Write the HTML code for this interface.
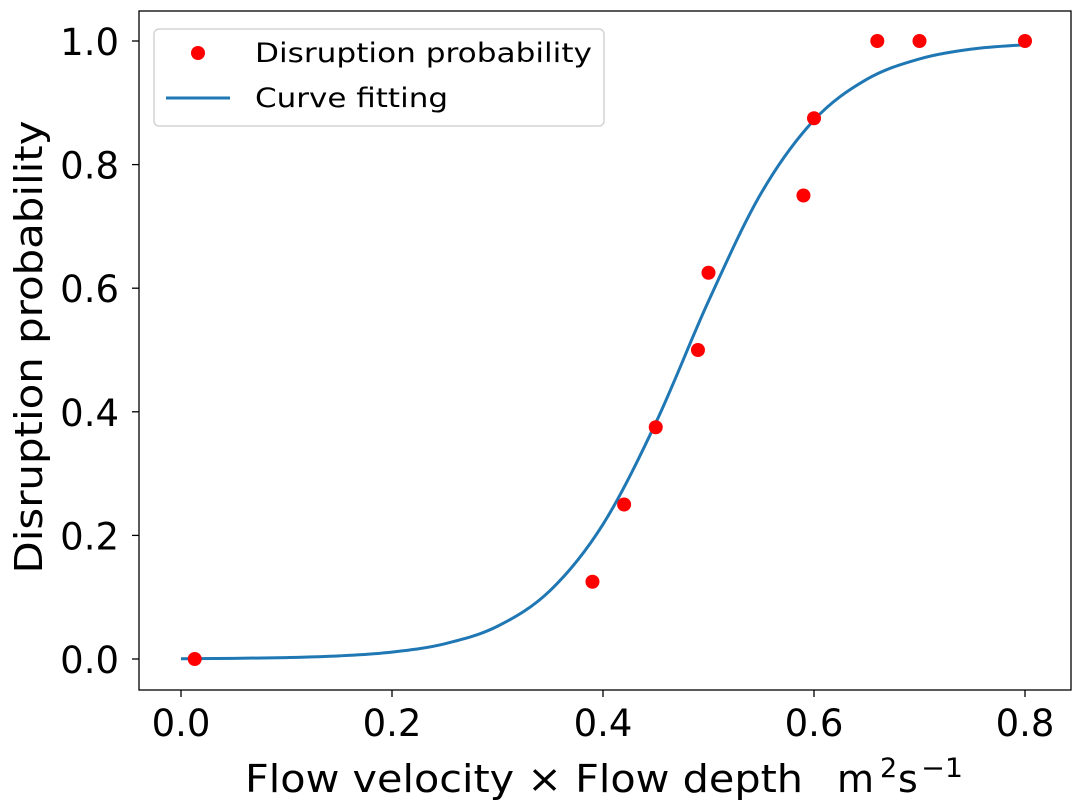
<!DOCTYPE html>
<html><head><meta charset="utf-8"><style>
html,body{margin:0;padding:0;background:#fff;}
svg{display:block;font-family:"DejaVu Sans","Liberation Sans",sans-serif;}
</style></head><body>
<svg id="chart" width="1079" height="809" viewBox="0 0 1079 809"></svg>
<script>
const pointX=[0.013,0.39,0.42,0.45,0.49,0.5,0.59,0.6,0.66,0.70,0.80];
const pointY=[0,0.125,0.25,0.375,0.5,0.625,0.75,0.875,1,1,1];
const curveX=[0,0.05,0.1,0.15,0.2,0.25,0.3,0.35,0.4,0.45,0.5,0.55,0.6,0.65,0.7,0.75,0.8];
const curveY=[0.0005,0.001,0.0023,0.0051,0.0112,0.0246,0.053,0.111,0.218,0.382,0.579,0.754,0.872,0.938,0.971,0.987,0.994];
const xTicks=[0,0.2,0.4,0.6,0.8];
const xTickLabels=["0.0","0.2","0.4","0.6","0.8"];
const yTicks=[0,0.2,0.4,0.6,0.8,1.0];
const yTickLabels=["0.0","0.2","0.4","0.6","0.8","1.0"];

const NS="http://www.w3.org/2000/svg";
const svg=document.getElementById('chart');
const L=139,R=1071,T=11,B=690;
function xs(v){return 181+v*(1025-181)/0.8;}
function ys(v){return 659-v*(659-41);}
function mk(tag,attrs,parent){const e=document.createElementNS(NS,tag);for(const k in attrs)e.setAttribute(k,attrs[k]);(parent||svg).appendChild(e);return e;}

xTicks.forEach((t,i)=>{
  const g=mk('g',{});
  
  
  mk('line',{x1:xs(t),x2:xs(t),y1:B,y2:B+7,stroke:'#000','stroke-width':1.3},g);
  const tx=mk('text',{x:xs(t),y:736,'text-anchor':'middle','font-size':37,fill:'#000'},g);
  tx.textContent=xTickLabels[i];
});
yTicks.forEach((t,i)=>{
  const g=mk('g',{});
  
  
  mk('line',{x1:L-7,x2:L,y1:ys(t),y2:ys(t),stroke:'#000','stroke-width':1.3},g);
  const tx=mk('text',{x:119,y:ys(t)+14,'text-anchor':'end','font-size':37,fill:'#000'},g);
  tx.textContent=yTickLabels[i];
});

const px=curveX.map(xs),py=curveY.map(ys);
let d=`M${px[0]},${py[0]}`;
for(let i=0;i<px.length-1;i++){
  const x0=px[Math.max(i-1,0)],y0=py[Math.max(i-1,0)];
  const x1=px[i],y1=py[i],x2=px[i+1],y2=py[i+1];
  const x3=px[Math.min(i+2,px.length-1)],y3=py[Math.min(i+2,px.length-1)];
  d+=` C${x1+(x2-x0)/6},${y1+(y2-y0)/6} ${x2-(x3-x1)/6},${y2-(y3-y1)/6} ${x2},${y2}`;
}
const curve=mk('path',{d:d,fill:'none',stroke:'#1f77b4','stroke-width':3});



pointX.forEach((x,i)=>{
  const c=mk('circle',{cx:xs(x),cy:ys(pointY[i]),r:7,fill:'#ff0000'});
  
  
});

const fr=mk('rect',{x:L,y:T,width:R-L,height:B-T,fill:'none',stroke:'#000','stroke-width':1.3});



const lg=mk('g',{});


mk('rect',{x:154,y:29,width:450,height:97,rx:5,fill:'#fff','fill-opacity':0.8,stroke:'#ccc','stroke-width':1.3},lg);
mk('circle',{cx:198,cy:53,r:7,fill:'#ff0000'},lg);
const t1=mk('text',{x:255,y:62,'font-size':27,fill:'#000',textLength:337,lengthAdjust:'spacingAndGlyphs'},lg);t1.textContent='Disruption probability';
mk('line',{x1:166,x2:230,y1:98,y2:98,stroke:'#1f77b4','stroke-width':3},lg);
const t2=mk('text',{x:255,y:107,'font-size':27,fill:'#000',textLength:193,lengthAdjust:'spacingAndGlyphs'},lg);t2.textContent='Curve fitting';

const xg=mk('g',{fill:'#000'});


const xa=mk('text',{x:245,y:792,'font-size':38,textLength:558,lengthAdjust:'spacingAndGlyphs'},xg);xa.textContent='Flow velocity × Flow depth';
const xb=mk('text',{x:837,y:792,'font-size':38},xg);xb.textContent='m';
const xc=mk('text',{x:880,y:777,'font-size':27},xg);xc.textContent='2';
const xd=mk('text',{x:898,y:792,'font-size':38},xg);xd.textContent='s';
const xe=mk('text',{x:921,y:777,'font-size':27,textLength:42,lengthAdjust:'spacingAndGlyphs'},xg);xe.textContent='−1';

const yl=mk('text',{x:0,y:0,'text-anchor':'middle','font-size':38,fill:'#000',transform:'translate(42,347) rotate(-90)',textLength:453,lengthAdjust:'spacingAndGlyphs'});


yl.textContent='Disruption probability';
</script>
</body></html>
